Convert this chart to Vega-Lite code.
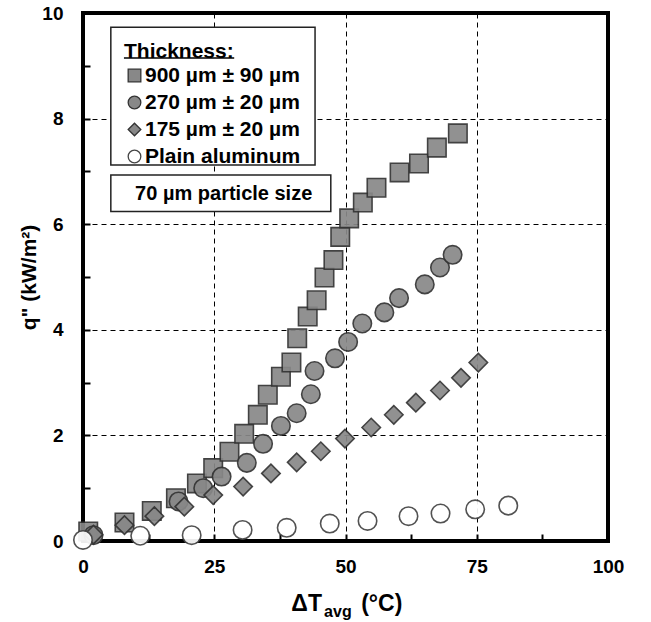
{
  "$schema": "https://vega.github.io/schema/vega-lite/v6.json",
  "width": 525,
  "height": 528,
  "autosize": {"type": "none"},
  "padding": {"left": 83, "top": 13, "right": 43, "bottom": 81},
  "background": "white",
  "config": {
    "font": "Liberation Sans",
    "view": {"stroke": "black", "strokeWidth": 4},
    "axis": {
      "domain": false,
      "labelFont": "Liberation Sans",
      "labelFontWeight": "bold",
      "labelFontSize": 19,
      "labelColor": "black",
      "labelFlush": false,
      "titleFont": "Liberation Sans",
      "titleFontWeight": "bold",
      "titleFontSize": 21,
      "titleColor": "black",
      "tickColor": "black",
      "tickWidth": 2,
      "tickSize": -7,
      "grid": true,
      "gridColor": "black",
      "gridDash": [5, 4],
      "gridWidth": 1
    }
  },
  "datasets": {
    "pts": [
      {"s": "900 µm ± 90 µm", "x": 1.0, "y": 0.18},
      {"s": "900 µm ± 90 µm", "x": 7.9, "y": 0.35},
      {"s": "900 µm ± 90 µm", "x": 13.1, "y": 0.57},
      {"s": "900 µm ± 90 µm", "x": 17.7, "y": 0.81},
      {"s": "900 µm ± 90 µm", "x": 21.7, "y": 1.09},
      {"s": "900 µm ± 90 µm", "x": 24.8, "y": 1.38},
      {"s": "900 µm ± 90 µm", "x": 27.9, "y": 1.69},
      {"s": "900 µm ± 90 µm", "x": 30.7, "y": 2.03},
      {"s": "900 µm ± 90 µm", "x": 33.3, "y": 2.39},
      {"s": "900 µm ± 90 µm", "x": 35.2, "y": 2.77},
      {"s": "900 µm ± 90 µm", "x": 37.7, "y": 3.11},
      {"s": "900 µm ± 90 µm", "x": 39.7, "y": 3.38},
      {"s": "900 µm ± 90 µm", "x": 40.8, "y": 3.84},
      {"s": "900 µm ± 90 µm", "x": 42.8, "y": 4.25},
      {"s": "900 µm ± 90 µm", "x": 44.5, "y": 4.56},
      {"s": "900 µm ± 90 µm", "x": 46.0, "y": 4.99},
      {"s": "900 µm ± 90 µm", "x": 47.7, "y": 5.32},
      {"s": "900 µm ± 90 µm", "x": 49.0, "y": 5.76},
      {"s": "900 µm ± 90 µm", "x": 50.7, "y": 6.11},
      {"s": "900 µm ± 90 µm", "x": 53.3, "y": 6.41},
      {"s": "900 µm ± 90 µm", "x": 55.9, "y": 6.69},
      {"s": "900 µm ± 90 µm", "x": 60.3, "y": 6.98},
      {"s": "900 µm ± 90 µm", "x": 64.0, "y": 7.15},
      {"s": "900 µm ± 90 µm", "x": 67.4, "y": 7.45},
      {"s": "900 µm ± 90 µm", "x": 71.4, "y": 7.72},
      {"s": "270 µm ± 20 µm", "x": 2.0, "y": 0.11},
      {"s": "270 µm ± 20 µm", "x": 18.2, "y": 0.75},
      {"s": "270 µm ± 20 µm", "x": 22.9, "y": 1.0},
      {"s": "270 µm ± 20 µm", "x": 26.4, "y": 1.22},
      {"s": "270 µm ± 20 µm", "x": 31.2, "y": 1.48},
      {"s": "270 µm ± 20 µm", "x": 34.3, "y": 1.84},
      {"s": "270 µm ± 20 µm", "x": 37.7, "y": 2.18},
      {"s": "270 µm ± 20 µm", "x": 40.7, "y": 2.42},
      {"s": "270 µm ± 20 µm", "x": 43.4, "y": 2.78},
      {"s": "270 µm ± 20 µm", "x": 44.1, "y": 3.22},
      {"s": "270 µm ± 20 µm", "x": 48.0, "y": 3.46},
      {"s": "270 µm ± 20 µm", "x": 50.5, "y": 3.77},
      {"s": "270 µm ± 20 µm", "x": 53.2, "y": 4.12},
      {"s": "270 µm ± 20 µm", "x": 57.4, "y": 4.33},
      {"s": "270 µm ± 20 µm", "x": 60.2, "y": 4.6},
      {"s": "270 µm ± 20 µm", "x": 65.1, "y": 4.86},
      {"s": "270 µm ± 20 µm", "x": 68.0, "y": 5.18},
      {"s": "270 µm ± 20 µm", "x": 70.4, "y": 5.42},
      {"s": "175 µm ± 20 µm", "x": 2.0, "y": 0.12},
      {"s": "175 µm ± 20 µm", "x": 7.9, "y": 0.3},
      {"s": "175 µm ± 20 µm", "x": 13.6, "y": 0.47},
      {"s": "175 µm ± 20 µm", "x": 19.3, "y": 0.65},
      {"s": "175 µm ± 20 µm", "x": 24.8, "y": 0.87},
      {"s": "175 µm ± 20 µm", "x": 30.5, "y": 1.03},
      {"s": "175 µm ± 20 µm", "x": 35.8, "y": 1.28},
      {"s": "175 µm ± 20 µm", "x": 40.7, "y": 1.49},
      {"s": "175 µm ± 20 µm", "x": 45.3, "y": 1.7},
      {"s": "175 µm ± 20 µm", "x": 49.9, "y": 1.94},
      {"s": "175 µm ± 20 µm", "x": 54.9, "y": 2.15},
      {"s": "175 µm ± 20 µm", "x": 59.2, "y": 2.39},
      {"s": "175 µm ± 20 µm", "x": 63.4, "y": 2.62},
      {"s": "175 µm ± 20 µm", "x": 68.0, "y": 2.85},
      {"s": "175 µm ± 20 µm", "x": 72.0, "y": 3.09},
      {"s": "175 µm ± 20 µm", "x": 75.3, "y": 3.38},
      {"s": "Plain aluminum", "x": 0.0, "y": 0.02},
      {"s": "Plain aluminum", "x": 10.9, "y": 0.1},
      {"s": "Plain aluminum", "x": 20.7, "y": 0.11},
      {"s": "Plain aluminum", "x": 30.4, "y": 0.21},
      {"s": "Plain aluminum", "x": 38.8, "y": 0.25},
      {"s": "Plain aluminum", "x": 47.0, "y": 0.33},
      {"s": "Plain aluminum", "x": 54.2, "y": 0.38},
      {"s": "Plain aluminum", "x": 62.0, "y": 0.47},
      {"s": "Plain aluminum", "x": 68.1, "y": 0.52},
      {"s": "Plain aluminum", "x": 74.7, "y": 0.6},
      {"s": "Plain aluminum", "x": 81.0, "y": 0.67}
    ],
    "xtitle": [
      {"part": "ΔT", "pos": 42.6, "lift": -1.33, "sz": "main"},
      {"part": "avg", "pos": 48.55, "lift": -1.44, "sz": "sub"},
      {"part": "(°C)", "pos": 56.9, "lift": -1.33, "sz": "main"}
    ]
  },
  "layer": [
    {
      "data": {"values": [{}]},
      "mark": {"type": "rect", "fill": "white", "stroke": "#222", "strokeWidth": 1.5},
      "encoding": {
        "x": {
          "datum": 5.3, "type": "quantitative",
          "scale": {"domain": [0, 100], "nice": false},
          "axis": {
            "title": null,
            "values": [0, 12.5, 25, 37.5, 50, 62.5, 75, 87.5, 100],
            "labelExpr": "datum.value % 25 == 0 ? datum.label : ''",
            "labelPadding": 23,
            "gridOpacity": {"condition": {"test": "datum.value % 25 != 0 || datum.value == 0 || datum.value == 100", "value": 0}, "value": 1}
          }
        },
        "x2": {"datum": 44.2},
        "y": {
          "datum": 9.73, "type": "quantitative",
          "scale": {"domain": [0, 10], "nice": false},
          "axis": {
            "title": "q\" (kW/m²)",
            "values": [0, 1, 2, 3, 4, 5, 6, 7, 8, 9, 10],
            "labelExpr": "datum.value % 2 == 0 ? datum.label : ''",
            "labelPadding": 27,
            "titlePadding": 2,
            "gridOpacity": {"condition": {"test": "datum.value % 2 != 0 || datum.value == 0 || datum.value == 10", "value": 0}, "value": 1}
          }
        },
        "y2": {"datum": 7.12}
      }
    },
    {
      "data": {"values": [{}]},
      "mark": {"type": "rect", "fill": "white", "stroke": "#222", "strokeWidth": 1.5},
      "encoding": {
        "x": {"datum": 5.3, "type": "quantitative"},
        "x2": {"datum": 47.2},
        "y": {"datum": 6.93, "type": "quantitative"},
        "y2": {"datum": 6.24}
      }
    },
    {
      "data": {"values": [{}]},
      "mark": {"type": "text", "text": "70 µm particle size", "font": "Liberation Sans", "fontWeight": "bold", "fontSize": 20, "align": "center", "baseline": "middle", "color": "black"},
      "encoding": {
        "x": {"datum": 26.8, "type": "quantitative"},
        "y": {"datum": 6.58, "type": "quantitative"}
      }
    },
    {
      "data": {"values": [{}]},
      "mark": {"type": "rule", "color": "black", "strokeWidth": 1.5},
      "encoding": {
        "x": {"datum": 7.8, "type": "quantitative"},
        "x2": {"datum": 28.8},
        "y": {"datum": 9.15, "type": "quantitative"}
      }
    },
    {
      "data": {"name": "xtitle"},
      "mark": {"type": "text", "font": "Liberation Sans", "fontWeight": "bold", "align": "center", "baseline": "alphabetic", "color": "black"},
      "encoding": {
        "x": {"field": "pos", "type": "quantitative"},
        "y": {"field": "lift", "type": "quantitative"},
        "text": {"field": "part"},
        "size": {"field": "sz", "type": "nominal", "scale": {"domain": ["main", "sub"], "range": [23, 16]}, "legend": null}
      }
    },
    {
      "data": {"name": "pts"},
      "mark": {"type": "point", "filled": true, "opacity": 0.92, "size": 340, "strokeWidth": 1.6},
      "encoding": {
        "x": {"field": "x", "type": "quantitative"},
        "y": {"field": "y", "type": "quantitative"},
        "shape": {
          "field": "s", "type": "nominal",
          "scale": {"domain": ["900 µm ± 90 µm", "270 µm ± 20 µm", "175 µm ± 20 µm", "Plain aluminum"], "range": ["square", "circle", "diamond", "circle"]},
          "legend": {
            "title": "Thickness:",
            "orient": "none",
            "legendX": 41,
            "legendY": 28,
            "padding": 0,
            "titleFont": "Liberation Sans",
            "titleFontWeight": "bold",
            "titleFontSize": 21,
            "titleColor": "black",
            "titlePadding": 3,
            "labelFont": "Liberation Sans",
            "labelFontWeight": "bold",
            "labelFontSize": 21,
            "labelColor": "black",
            "labelOffset": 0,
            "labelLimit": 300,
            "symbolSize": 160,
            "symbolStrokeWidth": 1.3,
            "symbolOpacity": 1,
            "rowPadding": 5
          }
        },
        "fill": {
          "field": "s", "type": "nominal",
          "scale": {"domain": ["900 µm ± 90 µm", "270 µm ± 20 µm", "175 µm ± 20 µm", "Plain aluminum"], "range": ["#888888", "#888888", "#888888", "white"]}
        },
        "stroke": {
          "field": "s", "type": "nominal",
          "scale": {"domain": ["900 µm ± 90 µm", "270 µm ± 20 µm", "175 µm ± 20 µm", "Plain aluminum"], "range": ["#333333", "#333333", "#333333", "#444444"]}
        }
      }
    }
  ]
}
